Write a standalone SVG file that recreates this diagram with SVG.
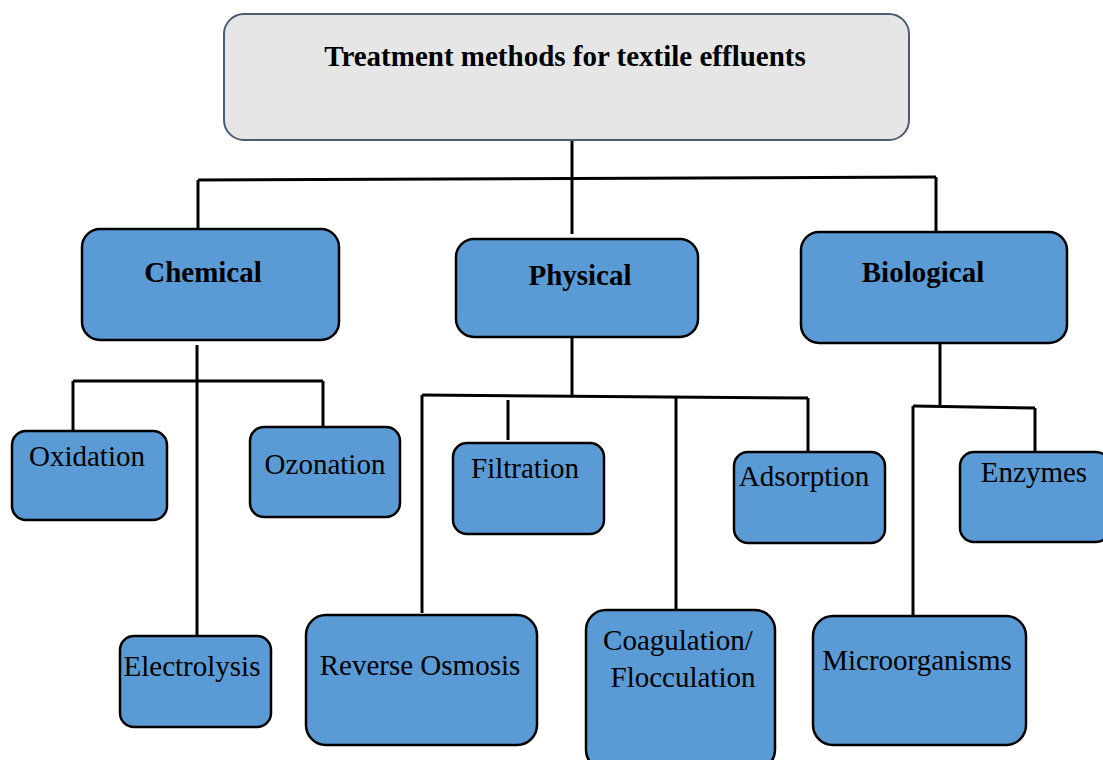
<svg xmlns="http://www.w3.org/2000/svg" width="1103" height="760" viewBox="0 0 1103 760">
<style>
.box{fill:#5b9bd5;stroke:#000;stroke-width:2.5}
.title{fill:#e6e6e6;stroke:#4d5c73;stroke-width:2}
.b{font-family:"Liberation Serif",serif;font-weight:bold;font-size:29px;fill:#000;text-anchor:middle}
.r{font-family:"Liberation Serif",serif;font-weight:normal;font-size:29px;fill:#000;text-anchor:middle}
.c{fill:none;stroke:#000;stroke-width:3}
</style>
<rect width="1103" height="760" fill="#fff"/>
<g id="connectors">
<path class="c" d="M572 140 V234"/>
<path class="c" d="M198 180 L936 177"/>
<path class="c" d="M198 180 V229"/>
<path class="c" d="M936 177 V232"/>
<path class="c" d="M197 345 V636"/>
<path class="c" d="M73 381 H323"/>
<path class="c" d="M73 381 V431"/>
<path class="c" d="M323 381 V427"/>
<path class="c" d="M572 337 V396"/>
<path class="c" d="M422 395 L808 398"/>
<path class="c" d="M422 395 V613"/>
<path class="c" d="M508 400 V440"/>
<path class="c" d="M676 398 V610"/>
<path class="c" d="M808 398 V452"/>
<path class="c" d="M940 343 V406"/>
<path class="c" d="M913 406 L1035 408"/>
<path class="c" d="M913 406 V616"/>
<path class="c" d="M1035 408 V452"/>
</g>
<g id="root"><rect class="title" x="224" y="14" width="685" height="126" rx="20"/><text class="b" x="565" y="66">Treatment methods for textile effluents</text></g>
<g id="chemical"><rect class="box" x="82" y="229" width="257" height="111" rx="18"/><text class="b" x="203" y="282">Chemical</text></g>
<g id="physical"><rect class="box" x="456" y="239" width="242" height="98" rx="18"/><text class="b" x="580" y="285">Physical</text></g>
<g id="biological"><rect class="box" x="801" y="232" width="266" height="111" rx="18"/><text class="b" x="923" y="282">Biological</text></g>
<g id="oxidation"><rect class="box" x="12" y="431" width="155" height="89" rx="14"/><text class="r" x="87" y="466">Oxidation</text></g>
<g id="ozonation"><rect class="box" x="250" y="427" width="150" height="90" rx="14"/><text class="r" x="325" y="474">Ozonation</text></g>
<g id="electrolysis"><rect class="box" x="120" y="636" width="151" height="91" rx="14"/><text class="r" x="192" y="676">Electrolysis</text></g>
<g id="filtration"><rect class="box" x="453" y="443" width="151" height="91" rx="14"/><text class="r" x="525" y="478">Filtration</text></g>
<g id="adsorption"><rect class="box" x="734" y="452" width="151" height="91" rx="14"/><text class="r" x="804" y="486">Adsorption</text></g>
<g id="reverse-osmosis"><rect class="box" x="306" y="615" width="231" height="130" rx="20"/><text class="r" x="420" y="675">Reverse Osmosis</text></g>
<g id="coagulation"><rect class="box" x="586" y="610" width="189" height="160" rx="20"/><text class="r" x="678" y="650">Coagulation/</text><text class="r" x="683" y="687">Flocculation</text></g>
<g id="enzymes"><rect class="box" x="960" y="452" width="150" height="90" rx="14"/><text class="r" x="1034" y="482">Enzymes</text></g>
<g id="microorganisms"><rect class="box" x="813" y="616" width="213" height="129" rx="20"/><text class="r" x="917" y="670">Microorganisms</text></g>
</svg>
